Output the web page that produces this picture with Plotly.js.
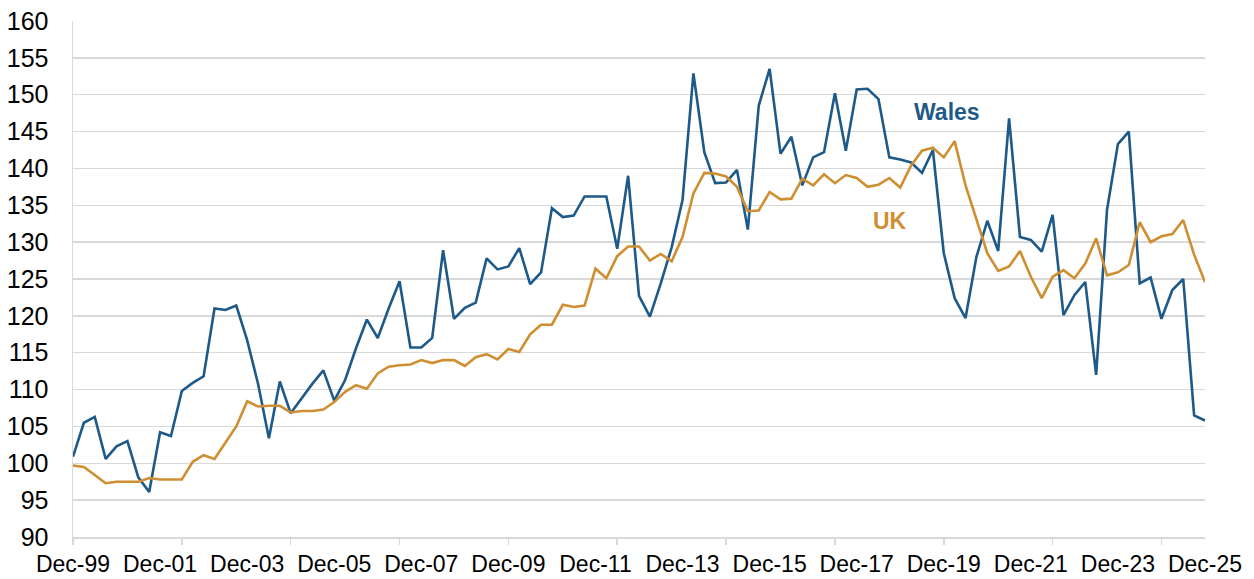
<!DOCTYPE html>
<html>
<head>
<meta charset="utf-8">
<script src="https://cdn.plot.ly/plotly-3.0.1.min.js"></script>
<style>
  html, body { margin: 0; padding: 0; background: #ffffff; }
  #chart { width: 1254px; height: 579px; }
</style>
</head>
<body>
<div id="chart"></div>
<script>
// Quarterly index, Dec-99 = first quarter, through Dec-25
const tickLabels = ['Dec-99','Dec-01','Dec-03','Dec-05','Dec-07','Dec-09','Dec-11',
                    'Dec-13','Dec-15','Dec-17','Dec-19','Dec-21','Dec-23','Dec-25'];

const wales = [
  100.9, 105.5, 106.3, 100.6, 102.3, 103.0, 98.1, 96.1, 104.2, 103.7,
  109.8, 110.9, 111.8, 121.0, 120.8, 121.4, 116.7, 110.8, 103.4, 111.1,
  106.8, 108.8, 110.8, 112.6, 108.5, 111.3, 115.6, 119.5, 117.0, 121.0,
  124.7, 115.7, 115.7, 117.0, 128.9, 119.6, 121.1, 121.8, 127.8, 126.3,
  126.7, 129.2, 124.3, 125.9, 134.6, 133.4, 133.6, 136.2, 136.2, 136.2,
  129.1, 139.0, 122.7, 119.9, 124.4, 129.3, 135.7, 152.9, 142.2, 138.0,
  138.1, 139.8, 131.7, 148.5, 153.5, 142.0, 144.3, 137.7, 141.5, 142.2,
  150.2, 142.4, 150.7, 150.8, 149.4, 141.5, 141.2, 140.8, 139.4, 142.5,
  128.5, 122.4, 119.7, 128.0, 132.9, 128.8, 146.8, 130.7, 130.3, 128.7,
  133.7, 120.1, 122.8, 124.6, 112.0, 134.4, 143.3, 145.0, 124.4, 125.2,
  119.6, 123.5, 125.0, 106.5, 105.8
];

const uk = [
  99.7, 99.5, 98.4, 97.3, 97.5, 97.5, 97.5, 98.0, 97.8, 97.8,
  97.8, 100.2, 101.1, 100.6, 102.8, 105.0, 108.4, 107.7, 107.8, 107.8,
  106.9, 107.1, 107.1, 107.3, 108.3, 109.7, 110.6, 110.1, 112.2, 113.1,
  113.3, 113.4, 114.0, 113.6, 114.0, 114.0, 113.2, 114.4, 114.8, 114.1,
  115.5, 115.1, 117.5, 118.8, 118.8, 121.5, 121.2, 121.4, 126.4, 125.1,
  128.1, 129.4, 129.4, 127.5, 128.4, 127.4, 130.7, 136.6, 139.4, 139.3,
  138.9, 137.5, 134.2, 134.3, 136.8, 135.8, 135.9, 138.6, 137.7, 139.2,
  138.0, 139.1, 138.7, 137.5, 137.8, 138.7, 137.4, 140.4, 142.4, 142.8,
  141.5, 143.7, 137.7, 133.0, 128.5, 126.1, 126.7, 128.8, 125.3, 122.4,
  125.3, 126.2, 125.1, 127.1, 130.5, 125.5, 125.9, 126.9, 132.7, 130.0,
  130.8, 131.1, 133.0, 128.3, 124.6
];

const seriesNames = ['Wales', 'UK'];
const labelStep = 8;   // quarters between x labels (2 years)
const markStep = 10;   // quarters between x tick marks

const WALES_COL = '#1d5a8a';
const UK_COL = '#d08e32';
const GRID = '#d9d9d9';
const FONT = 'Liberation Sans, Arial, sans-serif';

const q = wales.map((_, i) => i);
const last = q.length - 1;
const labelPos = tickLabels.map((_, i) => i * labelStep);
const markPos = [];
for (let i = 0; i <= last; i += markStep) markPos.push(i);

const traces = [
  { x: q, y: wales, name: seriesNames[0], type: 'scatter', mode: 'lines',
    line: { color: WALES_COL, width: 2.6 }, hoverinfo: 'x+y' },
  { x: q, y: uk, name: seriesNames[1], type: 'scatter', mode: 'lines',
    line: { color: UK_COL, width: 2.6 }, hoverinfo: 'x+y' },
  { x: q, y: uk, xaxis: 'x2', type: 'scatter', mode: 'lines',
    line: { width: 0 }, opacity: 0, hoverinfo: 'skip', showlegend: false }
];

const layout = {
  width: 1254, height: 579,
  margin: { l: 73, r: 49, t: 21, b: 42 },
  paper_bgcolor: '#ffffff', plot_bgcolor: '#ffffff',
  showlegend: false,
  font: { family: FONT, color: '#000000' },
  xaxis: {
    range: [0, last],
    tickmode: 'array', tickvals: labelPos, ticktext: tickLabels,
    ticks: '', showgrid: false, zeroline: false,
    showline: true, linecolor: GRID, linewidth: 1.5,
    tickfont: { family: FONT, size: 23, color: '#000000' },
    ticklabelstandoff: 6
  },
  xaxis2: {
    overlaying: 'x', anchor: 'y', side: 'bottom',
    range: [0, last],
    tickmode: 'array', tickvals: markPos,
    ticks: 'outside', ticklen: 7, tickwidth: 1.5, tickcolor: GRID,
    showticklabels: false, showgrid: false, zeroline: false, showline: false
  },
  yaxis: {
    range: [90, 160], dtick: 5, tick0: 90,
    showgrid: true, gridcolor: GRID, gridwidth: 1.3,
    zeroline: false, showline: true, linecolor: GRID, linewidth: 1.5,
    ticks: '',
    tickfont: { family: FONT, size: 25, color: '#000000' },
    ticklabelstandoff: 18
  },
  annotations: [
    { x: 80.3, y: 147.7, xref: 'x', yref: 'y', text: '<b>' + seriesNames[0] + '</b>',
      showarrow: false, font: { family: FONT, size: 23, color: WALES_COL } },
    { x: 75.1, y: 132.9, xref: 'x', yref: 'y', text: '<b>' + seriesNames[1] + '</b>',
      showarrow: false, font: { family: FONT, size: 23, color: UK_COL } }
  ]
};

Plotly.newPlot('chart', traces, layout, { displayModeBar: false, staticPlot: true });
</script>
</body>
</html>
